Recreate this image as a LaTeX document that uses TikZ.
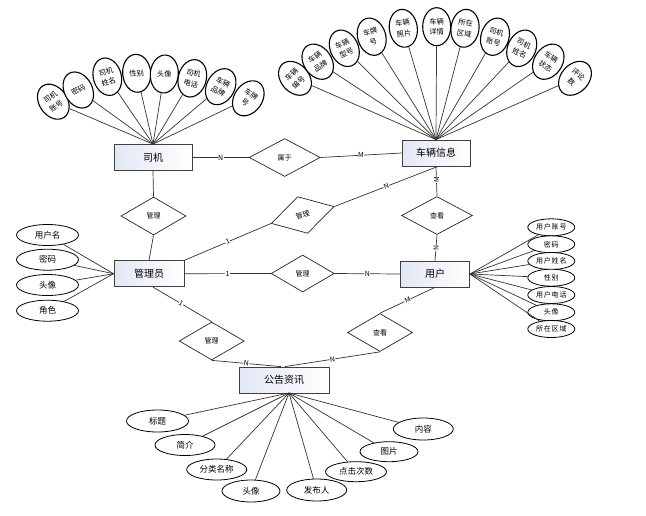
\documentclass[tikz,border=0pt]{standalone}
\usepackage{fontspec}
\setmainfont{Noto Sans CJK SC}
\newfontfamily\spaced[LetterSpace=12]{Noto Sans CJK SC}
\usetikzlibrary{shapes.geometric}
\definecolor{entl}{RGB}{226,231,245}
\begin{document}
\begin{tikzpicture}[x=1pt,y=-1pt,
  ent/.style={draw=black!75, line width=0.8pt, left color=entl, right color=white, minimum height=26, inner sep=0, font=\fontsize{10}{12}\selectfont},
  rel/.style={diamond, draw=black!85, line width=0.7pt, fill=white, minimum width=65, minimum height=38, inner sep=0, font=\fontsize{7}{8}\selectfont},
  tatt/.style={ellipse, draw, line width=1.1pt, fill=white, minimum width=28, minimum height=38, inner sep=0, align=center, font=\fontsize{7.3}{10.5}\selectfont},
  latt/.style={ellipse, draw, line width=0.8pt, fill=white, minimum width=62, minimum height=21, inner sep=0, font=\fontsize{8.5}{10}\selectfont},
  ratt/.style={ellipse, draw, line width=0.8pt, fill=white, minimum width=47, minimum height=17, inner sep=0, font=\fontsize{7}{8}\selectfont\spaced},
  batt/.style={ellipse, draw, line width=0.8pt, fill=white, minimum width=60, minimum height=21, inner sep=0, font=\fontsize{8.5}{10}\selectfont},
  conn/.style={draw=black!80, line width=0.7pt},
  lab/.style={fill=white, inner sep=0.4pt, font=\fontsize{7}{8}\selectfont}
]
\useasboundingbox[fill=white] (0,0) rectangle (646,515);

% entities
\node[ent, minimum width=78] (sj) at (153,157.5) {司机};
\node[ent, minimum width=68] (cl) at (436,153) {车辆信息};
\node[ent, minimum width=70] (gly) at (149,273.7) {管理员};
\node[ent, minimum width=69] (yh) at (435,274) {用户};
\node[ent, minimum width=90] (gg) at (284,380) {公告资讯};

% relations
\node[rel, minimum width=71] (sy) at (284.7,157.5) {属于};
\node[rel] (gl1) at (153.5,216) {管理};
\node[rel, minimum width=71] (ck1) at (437,215.5) {查看};
\node[rel, rotate=15] (gl2) at (302.7,215) {管理};
\node[rel, minimum width=63, minimum height=37] (gl3) at (302.7,273.5) {管理};
\node[rel] (gl4) at (211.7,341) {管理};
\node[rel] (ck2) at (380,332.5) {查看};

% connectors
\draw[conn] (sj.east) -- node[lab]{N} (sy.west);
\draw[conn] (sy.east) -- node[lab]{M} (cl.west);
\draw[conn] (sj.south) -- (gl1.north);
\draw[conn] (gl1.south) -- (gly.north);
\draw[conn] (gly.north east) -- node[lab, sloped]{1} (gl2.west);
\draw[conn] (gl2.east) -- node[lab, sloped]{N} ([xshift=2]cl.south);
\draw[conn] (cl.south) -- node[lab, rotate=90, pos=0.45]{M} (ck1.north);
\draw[conn] (ck1.south) -- node[lab, rotate=90]{N} (yh.north);
\draw[conn] (gly.east) -- node[lab]{1} (gl3.west);
\draw[conn] (gl3.east) -- node[lab]{N} (yh.west);
\draw[conn] ([xshift=4]gly.south) -- node[lab, sloped, pos=0.48]{1} (gl4.north);
\draw[conn] (gl4.south) -- node[lab, sloped]{N} ([xshift=-3]gg.north);
\draw[conn] (yh.south) -- node[lab, sloped]{M} (ck2.north);
\draw[conn] (ck2.south) -- node[lab, sloped]{N} ([xshift=1]gg.north);

% top-left attributes of 司机
\node[tatt, rotate=35] (a1) at (53.3,101.7) {司机\\账号};
\node[tatt, rotate=28] (a2) at (78.3,90) {密码};
\node[tatt, rotate=15] (a3) at (107.3,76.7) {司机\\姓名};
\node[tatt, rotate=5] (a4) at (136.7,73.3) {性别};
\node[tatt, rotate=-5] (a5) at (164.3,74) {头像};
\node[tatt, rotate=-15] (a6) at (192.3,78.3) {司机\\电话};
\node[tatt, rotate=-28] (a7) at (220.7,86.7) {车辆\\品牌};
\node[tatt, rotate=-35] (a8) at (248.3,98.3) {车牌\\号};
\foreach \n in {a1,a2,a3,a4,a5,a6,a7,a8} \draw[conn] (\n) -- (sj.north);

% top-right attributes of 车辆信息
\node[tatt, rotate=42] (b1) at (295,78.3) {车辆\\编号};
\node[tatt, rotate=34] (b2) at (317.7,61.7) {车辆\\品牌};
\node[tatt, rotate=25] (b3) at (344.3,48.3) {车辆\\型号};
\node[tatt, rotate=17] (b4) at (371.7,36.7) {车牌\\号};
\node[tatt, rotate=8] (b5) at (403.3,28.3) {车辆\\照片};
\node[tatt, rotate=0] (b6) at (436.7,26.7) {车辆\\详情};
\node[tatt, rotate=-8] (b7) at (465,28.3) {所在\\区域};
\node[tatt, rotate=-17] (b8) at (495,36.7) {司机\\账号};
\node[tatt, rotate=-25] (b9) at (521.7,48.3) {司机\\姓名};
\node[tatt, rotate=-34] (b10) at (548.3,61.7) {车辆\\状态};
\node[tatt, rotate=-42] (b11) at (575,78.3) {评论\\数};
\foreach \n in {b1,b2,b3,b4,b5,b6,b7,b8,b9,b10,b11} \draw[conn] (\n) -- (cl.north);

% left attributes of 管理员
\node[latt] (c1) at (47.5,235) {用户名};
\node[latt] (c2) at (47.5,259.7) {密码};
\node[latt] (c3) at (47.5,285) {头像};
\node[latt] (c4) at (47.5,310.7) {角色};
\foreach \n in {c1,c2,c3,c4} \draw[conn] (\n) -- (gly.west);

% right attributes of 用户
\node[ratt] (d1) at (551.3,227.3) {用户账号};
\node[ratt] (d2) at (551.3,244.3) {密码};
\node[ratt] (d3) at (551.3,261) {用户姓名};
\node[ratt] (d4) at (551.3,277.7) {性别};
\node[ratt] (d5) at (551.3,295) {用户电话};
\node[ratt] (d6) at (551.3,312.3) {头像};
\node[ratt] (d7) at (551.3,329) {所在区域};
\foreach \n in {d1,d2,d3,d4,d5,d6,d7} \draw[conn] (yh.east) -- (\n);

% bottom attributes of 公告资讯
\coordinate (hub) at (289,393);
\node[batt, minimum width=62, minimum height=22] (e1) at (157.5,421) {标题};
\node[batt] (e2) at (185,445) {简介};
\node[batt] (e3) at (216.7,469.5) {分类名称};
\node[batt, minimum width=58, minimum height=22] (e4) at (251,491) {头像};
\node[batt, minimum height=22] (e5) at (316.7,490) {发布人};
\node[batt, minimum width=61, minimum height=20] (e6) at (356,471.7) {点击次数};
\node[batt, minimum width=58, minimum height=20] (e7) at (389,451.7) {图片};
\node[batt, minimum height=22] (e8) at (423.3,429) {内容};
\foreach \n in {e1,e2,e3,e4,e5,e6,e7,e8} \draw[conn] (hub) -- (\n);
\end{tikzpicture}
\end{document}
